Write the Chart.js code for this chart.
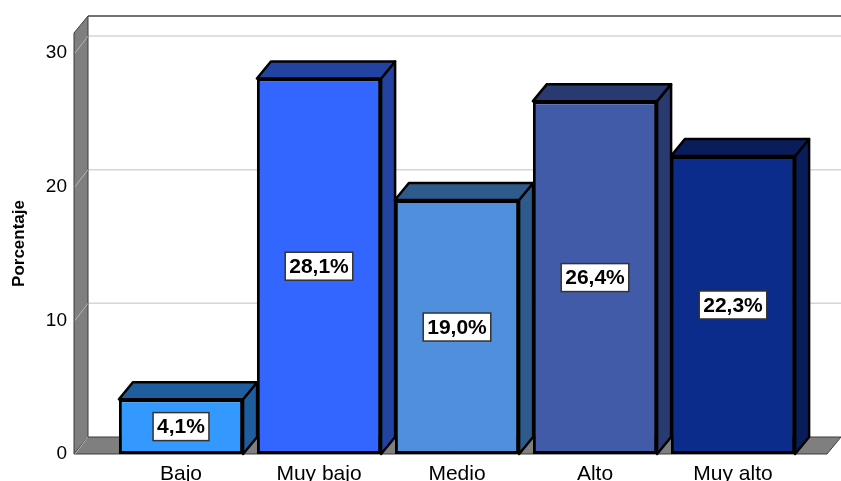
<!DOCTYPE html>
<html>
<head>
<meta charset="utf-8">
<script src="https://cdn.jsdelivr.net/npm/chart.js@4.4.6/dist/chart.umd.js"></script>
<style>
  html, body { margin: 0; padding: 0; background: #fff; overflow: hidden; }
  #wrap { position: absolute; left: 0; top: 0; }
</style>
</head>
<body>
<div id="wrap"><canvas id="myChart" width="860" height="500"></canvas></div>
<script>
// data
const categories = ['Bajo', 'Muy bajo', 'Medio', 'Alto', 'Muy alto'];
const percentages = [4.1, 28.1, 19.0, 26.4, 22.3];
const yTicks = [0, 10, 20, 30];

// colours of the front and of the top/side faces
const frontColors = ['#3399ff', '#3366ff', '#4f8fdb', '#425ba8', '#0b2c8a'];
const sideColors = ['#1f5e9e', '#2343a3', '#2f5a8c', '#283a70', '#081d5a'];

// depth of the 3d box
const DX = 14, DY = -17;

Chart.defaults.font.family = "'Liberation Sans', Arial, sans-serif";

function poly(ctx, pts) {
    ctx.beginPath();
    ctx.moveTo(pts[0][0], pts[0][1]);
    for (let i = 1; i < pts.length; i++) ctx.lineTo(pts[i][0], pts[i][1]);
    ctx.closePath();
}

const box3d = {
    id: 'box3d',
    beforeDatasetsDraw(chart) {
        const ctx = chart.ctx;
        const a = chart.chartArea;
        const y = chart.scales.y;
        const L = a.left - 38, R = a.right + 25;
        const top = a.top, bot = a.bottom;
        ctx.save();

        // back wall gridlines
        ctx.strokeStyle = '#d6d6d6';
        ctx.lineWidth = 1.5;
        yTicks.forEach(v => {
            if (v === 0) return;
            const py = y.getPixelForValue(v);
            ctx.beginPath();
            ctx.moveTo(L + DX, py + DY);
            ctx.lineTo(R + DX + 5, py + DY);
            ctx.stroke();
        });

        // left wall
        poly(ctx, [[L, top], [L + DX, top + DY], [L + DX, bot + DY], [L, bot]]);
        ctx.fillStyle = '#7f7f7f';
        ctx.fill();
        ctx.strokeStyle = '#3a3a3a';
        ctx.lineWidth = 1;
        ctx.stroke();

        // floor
        poly(ctx, [[L, bot], [R, bot], [R + DX, bot + DY], [L + DX, bot + DY]]);
        ctx.fillStyle = '#7f7f7f';
        ctx.fill();
        ctx.stroke();

        // gridlines running over the wall
        ctx.strokeStyle = '#b4b4b4';
        ctx.lineWidth = 1;
        yTicks.forEach(v => {
            const py = y.getPixelForValue(v);
            ctx.beginPath();
            ctx.moveTo(L + 1, py);
            ctx.lineTo(L + DX, py + DY);
            ctx.stroke();
        });

        // top edge of back wall
        ctx.strokeStyle = '#444';
        ctx.lineWidth = 1.5;
        ctx.beginPath();
        ctx.moveTo(L + DX, top + DY);
        ctx.lineTo(R + DX + 5, top + DY);
        ctx.stroke();

        // top and side faces of the bars
        const meta = chart.getDatasetMeta(0);
        ctx.lineJoin = 'round';
        meta.data.forEach((bar, i) => {
            const p = bar.getProps(['x', 'y', 'base', 'width'], true);
            const l = p.x - p.width / 2, r = p.x + p.width / 2;
            ctx.fillStyle = sideColors[i];
            ctx.strokeStyle = '#000';
            ctx.lineWidth = 2.5;
            poly(ctx, [[r, p.y], [r + DX, p.y + DY], [r + DX, p.base + DY], [r, p.base]]);
            ctx.fill();
            ctx.stroke();
            poly(ctx, [[l, p.y], [l + DX, p.y + DY], [r + DX, p.y + DY], [r, p.y]]);
            ctx.fill();
            ctx.stroke();
        });
        ctx.restore();
    },
    afterDatasetsDraw(chart) {
        const ctx = chart.ctx;
        const meta = chart.getDatasetMeta(0);
        ctx.save();
        ctx.font = "bold 21px 'Liberation Sans', Arial, sans-serif";
        ctx.textAlign = 'center';
        ctx.textBaseline = 'middle';
        meta.data.forEach((bar, i) => {
            const p = bar.getProps(['x', 'y', 'base'], true);
            const txt = percentages[i].toFixed(1).replace('.', ',') + '%';
            const w = ctx.measureText(txt).width + 8, h = 28;
            const cy = (p.y + p.base) / 2;
            ctx.fillStyle = '#fff';
            ctx.fillRect(p.x - w / 2, cy - h / 2, w, h);
            ctx.strokeStyle = '#333';
            ctx.lineWidth = 1.5;
            ctx.strokeRect(p.x - w / 2, cy - h / 2, w, h);
            ctx.fillStyle = '#000';
            ctx.fillText(txt, p.x, cy + 1);
        });
        ctx.restore();
    }
};

const ctx = document.getElementById('myChart').getContext('2d');
const myChart = new Chart(ctx, {
    type: 'bar',
    data: {
        labels: categories,
        datasets: [{
            data: percentages,
            backgroundColor: frontColors,
            borderColor: '#000',
            borderWidth: 3,
            borderSkipped: false,
            categoryPercentage: 1,
            barPercentage: 0.9
        }]
    },
    options: {
        responsive: false,
        animation: false,
        layout: { padding: { top: 33, right: 58, left: 0, bottom: 0 } },
        plugins: {
            legend: { display: false },
            tooltip: { enabled: false }
        },
        scales: {
            x: {
                grid: { display: false },
                border: { display: false },
                ticks: { color: '#000', font: { size: 21 }, padding: 0, maxRotation: 0, autoSkip: false },
                afterFit: (s) => { s.height = 46; }
            },
            y: {
                min: 0,
                max: 31.5,
                grid: { display: false, drawTicks: false },
                border: { display: false },
                ticks: { color: '#000', font: { size: 19 }, padding: 45 },
                afterBuildTicks: (s) => { s.ticks = yTicks.map(v => ({ value: v })); },
                title: {
                    display: true,
                    text: 'Porcentaje',
                    color: '#000',
                    font: { size: 17, weight: 'bold' },
                    padding: { top: 9, bottom: 0 }
                },
                afterFit: (s) => {
                    s.width = 112;
                    // the big label padding must not push the plot down
                    s.paddingTop = 0;
                    s.paddingBottom = 0;
                }
            }
        }
    },
    plugins: [box3d]
});
</script>
</body>
</html>
